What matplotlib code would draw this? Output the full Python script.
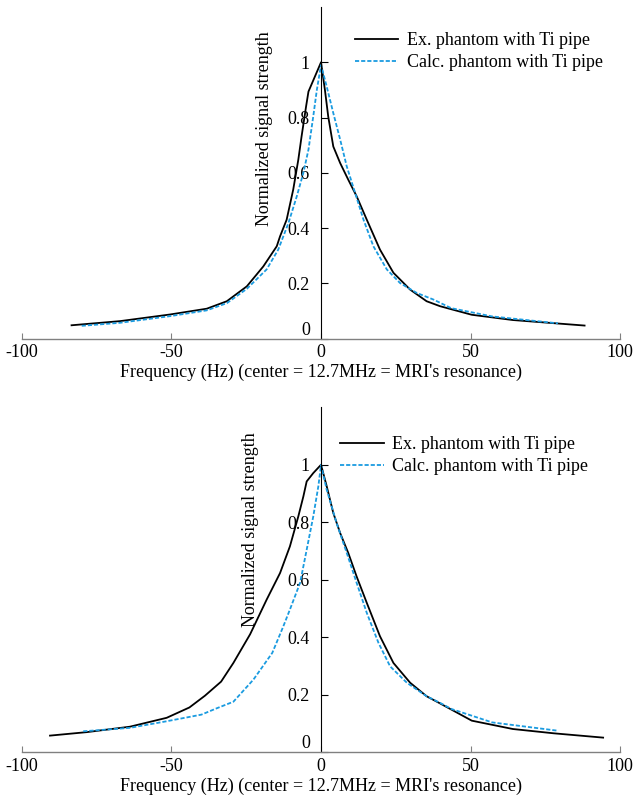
import matplotlib
matplotlib.use("Agg")
import matplotlib.pyplot as plt
from matplotlib.transforms import ScaledTranslation

plt.rcParams["font.family"] = ["Liberation Serif", "DejaVu Serif"]
plt.rcParams["font.size"] = 13
plt.rcParams["axes.unicode_minus"] = False

# top panel
top_ex_x = [-83.4, -67.2, -50.5, -38.2, -31.5, -24.8, -19.3, -14.8, -13.7, -11.5, -9.3, -7.6,
            -6.5, -5.0, -4.2, 0.0,
            1.3, 2.4, 4.1, 6.4, 9.1, 11.9, 15.3, 19.7, 24.2, 29.8, 35.3, 39.8, 50.4, 64.1, 88.1]
top_ex_y = [0.048, 0.063, 0.087, 0.108, 0.135, 0.189, 0.261, 0.334, 0.370, 0.430, 0.539, 0.647,
            0.732, 0.840, 0.894, 1.0,
            0.900, 0.804, 0.695, 0.635, 0.575, 0.515, 0.430, 0.322, 0.238, 0.177, 0.135, 0.117,
            0.086, 0.067, 0.047]
top_calc_x = [-80.0, -67.2, -50.5, -38.2, -31.5, -24.8, -18.2, -14.3, -10.9, -8.1, -5.9,
              -4.2, -2.6, -1.4, 0.0,
              1.9, 4.1, 6.4, 8.6, 11.4, 14.2, 17.5, 22.0, 26.4, 32.0, 37.6, 43.5, 57.2, 79.2]
top_calc_y = [0.046, 0.057, 0.081, 0.102, 0.128, 0.180, 0.250, 0.322, 0.418, 0.515, 0.600,
              0.684, 0.804, 0.900, 0.990,
              0.912, 0.816, 0.720, 0.623, 0.527, 0.430, 0.334, 0.250, 0.201, 0.165, 0.141, 0.110,
              0.080, 0.055]

# bottom panel
bot_ex_x = [-90.6, -78.4, -63.9, -51.6, -44.0, -38.8, -33.4, -29.3, -23.7, -18.2, -13.7,
            -10.4, -7.6, -5.9, -4.8, -2.6, 0.0,
            1.9, 4.1, 6.4, 9.1, 11.9, 15.3, 19.7, 24.2, 29.8, 35.3, 39.8, 50.4, 64.1, 77.8, 94.3]
bot_ex_y = [0.057, 0.069, 0.088, 0.119, 0.155, 0.196, 0.245, 0.310, 0.410, 0.530, 0.623,
            0.716, 0.820, 0.890, 0.942, 0.971, 1.0,
            0.925, 0.832, 0.762, 0.693, 0.611, 0.519, 0.403, 0.310, 0.241, 0.194, 0.169,
            0.109, 0.080, 0.065, 0.050]
bot_calc_x = [-79.5, -63.9, -51.6, -40.0, -34.9, -29.3, -22.6, -16.3, -12.7, -10.4, -7.0, -4.8,
              -2.6, -0.9, 0.0,
              1.9, 5.2, 8.6, 11.9, 15.3, 19.2, 23.1, 28.7, 35.3, 39.8, 43.5, 57.2, 79.2]
bot_calc_y = [0.072, 0.084, 0.107, 0.130, 0.152, 0.175, 0.252, 0.345, 0.435, 0.496, 0.589, 0.704,
              0.820, 0.925, 1.0,
              0.913, 0.797, 0.693, 0.589, 0.484, 0.380, 0.298, 0.241, 0.194, 0.171, 0.150,
              0.103, 0.074]

labels = ["Ex. phantom with Ti pipe", "Calc. phantom with Ti pipe"]
x_ticks = [-100, -50, 0, 50, 100]
y_ticks = [0, 0.2, 0.4, 0.6, 0.8, 1]
y_tick_labels = ["0", "0.2", "0.4", "0.6", "0.8", "1"]
x_label = "Frequency (Hz) (center = 12.7MHz = MRI's resonance)"
y_label = "Normalized signal strength"

BLUE = "#1a9be0"


def draw_panel(fig, rect, ex_x, ex_y, calc_x, calc_y, ylab_pos, leg_pos):
    ax = fig.add_axes(rect)
    ax.plot(ex_x, ex_y, color="black", linewidth=1.3, label=labels[0])
    ax.plot(calc_x, calc_y, color=BLUE, linewidth=1.3, linestyle=(0, (2.3, 1.1)), label=labels[1])

    ax.set_xlim(-100, 100)
    ax.set_ylim(0, 1.2)
    ax.spines["top"].set_visible(False)
    ax.spines["right"].set_visible(False)
    ax.spines["left"].set_position(("data", 0))
    ax.spines["left"].set_linewidth(0.8)
    ax.spines["bottom"].set_color("#808080")
    ax.spines["bottom"].set_linewidth(1.0)

    ax.set_xticks(x_ticks)
    ax.set_yticks(y_ticks)
    ax.set_yticklabels(y_tick_labels)
    ax.tick_params(axis="x", direction="in", length=4, color="#808080", pad=4, labelsize=13)
    ax.tick_params(axis="y", direction="in", length=5, width=0.8, pad=8, labelsize=13)

    # the zero label sits a bit above the axis line
    zero_lbl = ax.yaxis.get_major_ticks()[0].label1
    zero_lbl.set_transform(zero_lbl.get_transform() + ScaledTranslation(0, 10 / 100, fig.dpi_scale_trans))

    ax.set_xlabel(x_label, labelpad=2)
    ax.set_ylabel(y_label)
    ax.yaxis.set_label_coords(*ylab_pos)

    ax.legend(loc="upper left", bbox_to_anchor=leg_pos, frameon=False, borderpad=0,
              borderaxespad=0, handlelength=2.4, handletextpad=0.45, labelspacing=0.3,
              fontsize=13)
    return ax


fig = plt.figure(figsize=(6.44, 7.96), dpi=100)
draw_panel(fig, [0.034, 0.5747, 0.929, 0.4165], top_ex_x, top_ex_y, top_calc_x, top_calc_y,
           (0.42, 0.633), (0.557, 0.925))
draw_panel(fig, [0.034, 0.0553, 0.929, 0.433], bot_ex_x, bot_ex_y, bot_calc_x, bot_calc_y,
           (0.396, 0.646), (0.532, 0.917))
fig.savefig("out.png", dpi=100)
